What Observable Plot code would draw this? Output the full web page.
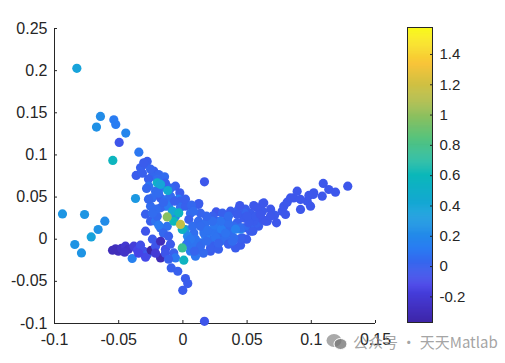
<!DOCTYPE html>
<html>
<head>
<meta charset="utf-8">
<script src="https://cdn.jsdelivr.net/npm/d3@7"></script>
<script src="https://cdn.jsdelivr.net/npm/@observablehq/plot@0.6"></script>
<style>
  html, body { margin: 0; padding: 0; background: #fff; }
  #wrap { position: relative; width: 505px; height: 363px; overflow: hidden; background: #fff; }
  #main, #cbar { position: absolute; top: 0; }
  #main { left: 0; }
  #cbar { left: 400px; }
  #wm { position: absolute; left: 326px; top: 331px; display: flex; align-items: center;
        font-family: "Noto Sans CJK SC", sans-serif; font-size: 15px; color: rgba(140,140,140,0.8);
        white-space: nowrap; }
  #wm svg { margin-right: 5px; }
</style>
</head>
<body>
<div id="wrap">
  <div id="main"></div>
  <div id="cbar"></div>
  <div id="wm"><svg width="22" height="18" viewBox="0 0 22 18"><ellipse cx="8" cy="7.5" rx="7.5" ry="6.5" fill="rgba(140,140,140,0.75)"/><ellipse cx="14.5" cy="11" rx="6.5" ry="5.5" fill="rgba(120,120,120,0.8)" stroke="#fff" stroke-width="1"/></svg><span>公众号 · 天天Matlab</span></div>
</div>
<script>
// ---- data ----
const xs = [
  // upper-left arm
  -0.0826,-0.0642,-0.0673,-0.0538,-0.0523,-0.0445,-0.0496,-0.0343,-0.0278,-0.0299,-0.0330,-0.0364,-0.0305,
  -0.0227,-0.0239,-0.0188,-0.0143,0.0168,-0.0268,-0.0266,-0.0283,-0.0159,-0.0058,-0.0213,-0.0239,-0.0174,
  -0.0128,-0.0097,-0.0024,-0.0034,-0.0019,0.0121,0.0124,-0.0369,-0.0019,-0.0136,-0.0174,-0.0112,-0.0252,
  0.0020,0.0059,-0.0291,-0.0252,-0.0213,-0.0200,-0.0291,0.0046,-0.0174,-0.0122,-0.0188,0.0020,-0.0151,-0.0112,
  -0.0315,-0.0252,-0.0198,-0.0136,-0.0097,-0.0190,-0.0065,-0.0151,-0.0206,-0.0058,-0.0268,-0.0237,0.0020,0.0067,
  // left light-blue cluster
  -0.0938,-0.0766,-0.0608,-0.0660,-0.0714,-0.0842,-0.0790,
  // left dark arm
  -0.0525,-0.0502,-0.0478,-0.0447,-0.0424,-0.0395,-0.0382,-0.0354,-0.0330,-0.0305,-0.0276,-0.0291,-0.0247,
  -0.0213,-0.0237,-0.0174,-0.0174,-0.0136,-0.0097,-0.0071,-0.0058,
  -0.0548,-0.0454,-0.0346,-0.0213,-0.0136,-0.0112,
  // lower tail
  -0.0091,-0.0040,0.0020,0.0038,-0.0001,0.0168,0.0098,0.0059,
  // central band
  0.0085,0.0163,0.0267,0.0345,0.0423,0.0474,0.0526,0.0371,0.0293,0.0215,0.0137,0.0059,0.0241,0.0396,0.0410,
  0.0215,0.0111,0.0462,0.0544,0.0215,0.0293,0.0345,0.0176,0.0098,0.0036,0.0254,0.0448,0.0332,0.0259,0.0076,
  0.0121,0.0176,0.0230,0.0308,0.0371,0.0487,0.0526,0.0589,0.0355,0.0277,0.0160,0.0044,0.0083,0.0254,0.0449,
  0.0496,0.0449,0.0396,0.0163,0.0215,0.0396,0.0449,
  0.0137,0.0192,0.0246,0.0300,0.0355,0.0410,0.0277,0.0332,0.0386,0.0137,0.0184,0.0059,0.0028,0.0090,
  0.0511,0.0574,0.0620,0.0683,0.0714,0.0480,0.0433,0.0355,0.0293,0.0230,0.0184,0.0137,0.0083,
  // right arm
  0.0443,0.0552,0.0622,0.0622,0.0552,0.0474,0.0423,0.0657,0.0729,0.0544,0.0579,0.0565,0.0630,0.0643,0.0773,
  0.0786,0.0799,0.0812,0.0864,0.0890,0.0916,0.0968,0.0981,0.0994,0.1019,0.1085,0.1093,0.1136,0.1188,0.1284,
  0.0916,0.1015,0.0838,0.0604,0.0513,0.0682,0.0500,
  // highlighted points
  -0.0546,-0.0200,-0.0118,-0.0174,-0.0081,-0.0032,-0.0071,-0.0005,-0.0122,-0.0019,-0.0005,0.0007
];
const ys = [
  0.2027,0.1457,0.1330,0.1417,0.1362,0.1259,0.1148,0.1033,0.0923,0.0887,0.0847,0.0757,0.0906,
  0.0808,0.0748,0.0768,0.0740,0.0681,0.0713,0.0629,0.0602,0.0618,0.0629,0.0570,0.0490,0.0490,
  0.0471,0.0511,0.0550,0.0475,0.0451,0.0412,0.0424,0.0483,0.0380,0.0392,0.0372,0.0392,0.0392,
  0.0392,0.0309,0.0297,0.0214,0.0214,0.0273,0.0095,0.0234,0.0134,0.0154,0.0166,0.0115,0.0071,0.0036,
  0.0784,0.0831,0.0713,0.0665,0.0606,0.0546,0.0451,0.0439,0.0356,0.0273,0.0475,0.0309,0.0475,0.0404,
  0.0300,0.0293,0.0214,0.0115,0.0027,-0.0063,-0.0163,
  -0.0115,-0.0143,-0.0107,-0.0083,-0.0119,-0.0229,-0.0083,-0.0131,-0.0071,-0.0143,-0.0178,-0.0214,-0.0131,
  -0.0083,0.0000,-0.0024,-0.0222,-0.0119,-0.0059,-0.0163,-0.0222,
  -0.0131,-0.0154,-0.0166,-0.0166,-0.0166,-0.0238,
  -0.0341,-0.0380,-0.0467,-0.0526,-0.0606,-0.0974,-0.0202,-0.0143,
  0.0075,0.0115,0.0214,0.0234,0.0194,0.0134,0.0095,0.0075,0.0056,-0.0004,-0.0044,-0.0083,-0.0083,-0.0004,-0.0103,
  -0.0143,-0.0122,0.0015,0.0103,-0.0103,-0.0024,0.0154,0.0036,0.0000,0.0036,0.0119,0.0119,0.0000,0.0324,0.0154,
  0.0214,0.0190,0.0273,0.0309,0.0333,0.0356,0.0309,0.0154,-0.0059,-0.0119,-0.0166,-0.0024,-0.0059,0.0024,-0.0071,
  0.0000,0.0008,0.0015,0.0075,0.0095,0.0154,0.0134,
  0.0154,0.0107,0.0166,0.0119,0.0190,0.0119,-0.0048,0.0071,-0.0024,-0.0083,-0.0024,0.0000,-0.0059,-0.0143,
  0.0154,0.0190,0.0333,0.0356,0.0285,0.0309,0.0356,0.0273,0.0214,0.0214,0.0273,0.0309,0.0333,
  0.0400,0.0400,0.0424,0.0234,0.0214,0.0253,0.0293,0.0214,0.0194,0.0095,0.0372,0.0273,0.0431,0.0214,0.0333,
  0.0392,0.0293,0.0439,0.0490,0.0570,0.0353,0.0451,0.0519,0.0392,0.0550,0.0511,0.0662,0.0590,0.0558,0.0629,
  0.0472,0.0531,0.0490,0.0293,0.0194,0.0273,0.0273,
  0.0935,0.0669,0.0578,0.0650,0.0333,0.0312,0.0214,0.0115,0.0265,0.0175,-0.0103,-0.0249
];
const cs = [
  0.37,0.22,0.25,0.12,0.12,0.18,-0.05,0.10,-0.02,0.00,0.00,-0.02,-0.02,
  0.00,0.03,0.03,0.05,-0.04,0.00,0.08,0.03,0.08,0.00,0.05,0.05,0.00,
  0.08,0.05,-0.02,0.12,0.00,-0.02,-0.02,0.30,0.05,0.08,0.03,0.12,0.05,
  0.00,0.05,0.00,0.00,0.08,0.03,-0.05,0.00,0.05,0.08,0.12,0.28,0.03,0.00,
  0.00,0.02,0.05,0.00,0.03,0.05,0.00,0.03,0.05,0.10,0.03,0.05,0.00,0.03,
  0.28,0.28,0.22,0.26,0.36,0.27,0.27,
  -0.28,-0.30,-0.26,-0.22,-0.26,0.15,-0.18,-0.12,-0.08,-0.08,-0.02,-0.10,-0.37,
  -0.05,-0.03,-0.30,-0.32,-0.08,-0.03,0.00,0.10,
  -0.30,-0.25,-0.12,-0.20,-0.05,0.00,
  0.00,0.00,-0.02,-0.02,-0.02,-0.05,0.10,0.12,
  0.06,0.04,0.00,0.00,0.00,-0.02,-0.02,0.06,0.04,0.06,0.06,0.08,0.00,0.04,-0.02,
  -0.02,0.04,0.00,-0.04,0.00,0.06,0.04,0.12,0.08,0.18,0.08,0.20,0.06,-0.04,0.06,
  0.04,0.06,0.00,0.00,-0.02,-0.02,-0.02,-0.02,0.00,0.00,0.04,0.12,0.08,0.08,-0.02,
  -0.02,0.00,0.06,0.08,0.08,0.04,0.06,
  0.05,0.08,0.10,0.12,0.06,0.15,0.02,0.08,0.05,0.04,0.06,0.10,0.08,0.02,
  0.04,0.00,-0.03,-0.04,-0.03,0.02,0.00,0.05,0.08,0.06,0.03,0.02,0.05,
  -0.04,-0.04,-0.04,-0.04,-0.02,-0.02,-0.02,-0.04,-0.04,-0.02,-0.04,-0.02,-0.04,-0.04,-0.04,
  -0.04,-0.04,-0.04,-0.04,-0.04,-0.04,-0.04,-0.04,-0.04,-0.04,-0.04,-0.04,-0.04,-0.04,-0.04,
  -0.04,-0.04,-0.04,-0.04,-0.02,-0.04,-0.02,
  0.57,0.50,0.45,0.40,0.40,0.55,0.60,0.55,0.98,1.15,0.75,0.55
];
const xTicks = [-0.1, -0.05, 0, 0.05, 0.1, 0.15];
const yTicks = [-0.1, -0.05, 0, 0.05, 0.1, 0.15, 0.2, 0.25];
const cTicks = [-0.2, 0, 0.2, 0.4, 0.6, 0.8, 1, 1.2, 1.4];
const cLimits = [-0.369, 1.578];

// ---- build ----
const points = xs.map((x, i) => ({x, y: ys[i], c: cs[i]}));
const parula = d3.piecewise(d3.interpolateRgb, ["#3E26A8","#4743E7","#2A7CF2","#17A2DB","#0BB8B9","#58C37C","#B0BD4A","#F8C43A","#F9FB15"]);
const colorOpts = {type: "linear", domain: cLimits, interpolate: parula, clamp: true};
const ink = "#262626";
const font = "'Liberation Sans', Arial, Helvetica, sans-serif";

const main = Plot.plot({
  width: 400, height: 363,
  marginLeft: 54, marginRight: 25, marginTop: 28, marginBottom: 40,
  style: {fontFamily: font, fontSize: "16px", color: ink, background: "transparent", overflow: "visible"},
  x: {domain: [-0.1, 0.15]},
  y: {domain: [-0.1, 0.25]},
  color: colorOpts,
  marks: [
    Plot.axisX(xTicks, {tickSize: -3, tickPadding: 13, tickFormat: d => String(d), label: null, stroke: ink}),
    Plot.axisY(yTicks, {tickSize: -3, tickPadding: 10, tickFormat: d => String(d), label: null, stroke: ink}),
    Plot.ruleX([-0.1], {stroke: ink}),
    Plot.ruleY([-0.1], {stroke: ink}),
    Plot.dot(points, {x: "x", y: "y", fill: "c", r: 4.6})
  ]
});
document.getElementById("main").appendChild(main);

const step = (cLimits[1] - cLimits[0]) / 300;
const steps = d3.range(cLimits[0], cLimits[1] - step / 2, step);
const cbar = Plot.plot({
  width: 105, height: 363,
  marginLeft: 7, marginRight: 73, marginTop: 27, marginBottom: 41,
  style: {fontFamily: font, fontSize: "15px", color: ink, background: "transparent", overflow: "visible"},
  x: {domain: [0, 1], axis: null},
  y: {domain: cLimits},
  color: colorOpts,
  marks: [
    Plot.rect(steps, {x1: 0, x2: 1, y1: d => d, y2: d => Math.min(cLimits[1], d + step * 1.5), fill: d => d + step / 2}),
    Plot.frame({stroke: ink}),
    Plot.axisY(cTicks, {anchor: "right", tickSize: -3, tickPadding: 10, tickFormat: d => String(d), label: null, stroke: ink})
  ]
});
document.getElementById("cbar").appendChild(cbar);
</script>
</body>
</html>
